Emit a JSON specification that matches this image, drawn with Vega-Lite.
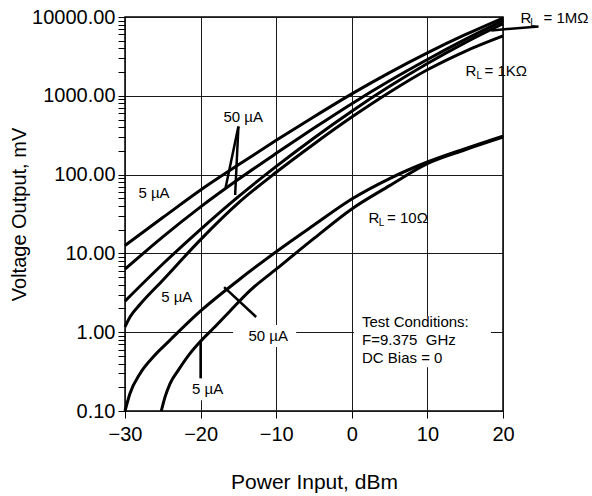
{
  "$schema": "https://vega.github.io/schema/vega-lite/v6.json",
  "width": 378,
  "height": 394,
  "autosize": {"type": "none"},
  "padding": {"left": 125, "top": 17, "right": 89, "bottom": 85},
  "background": "white",
  "config": {
    "view": {"stroke": "black", "strokeWidth": 1.5},
    "font": "Liberation Sans",
    "text": {"font": "Liberation Sans", "color": "black"}
  },
  "datasets": {
    "curves": [
      {"c": "A", "x": -30, "y": 12.6}, {"c": "A", "x": -25, "y": 28.5}, {"c": "A", "x": -20, "y": 63.8}, {"c": "A", "x": -15, "y": 133}, {"c": "A", "x": -10, "y": 272}, {"c": "A", "x": -5, "y": 543}, {"c": "A", "x": 0, "y": 1059}, {"c": "A", "x": 5, "y": 1972}, {"c": "A", "x": 10, "y": 3508}, {"c": "A", "x": 15, "y": 5957}, {"c": "A", "x": 20, "y": 9705},
      {"c": "B", "x": -30, "y": 6.31}, {"c": "B", "x": -25, "y": 16.2}, {"c": "B", "x": -20, "y": 38.9}, {"c": "B", "x": -15, "y": 87.1}, {"c": "B", "x": -10, "y": 186}, {"c": "B", "x": -5, "y": 389}, {"c": "B", "x": 0, "y": 794}, {"c": "B", "x": 5, "y": 1549}, {"c": "B", "x": 10, "y": 2884}, {"c": "B", "x": 15, "y": 5188}, {"c": "B", "x": 20, "y": 8974},
      {"c": "C", "x": -30, "y": 2.48}, {"c": "C", "x": -25, "y": 7.33}, {"c": "C", "x": -20, "y": 20.2}, {"c": "C", "x": -15, "y": 52.5}, {"c": "C", "x": -10, "y": 127}, {"c": "C", "x": -5, "y": 292}, {"c": "C", "x": 0, "y": 638}, {"c": "C", "x": 5, "y": 1318}, {"c": "C", "x": 10, "y": 2570}, {"c": "C", "x": 15, "y": 4732}, {"c": "C", "x": 20, "y": 8222},
      {"c": "D", "x": -30, "y": 1.17}, {"c": "D", "x": -29.3, "y": 1.58}, {"c": "D", "x": -28, "y": 2.26}, {"c": "D", "x": -25, "y": 4.57}, {"c": "D", "x": -20, "y": 14.96}, {"c": "D", "x": -15, "y": 43.7}, {"c": "D", "x": -10, "y": 107}, {"c": "D", "x": -5, "y": 245}, {"c": "D", "x": 0, "y": 537}, {"c": "D", "x": 5, "y": 1109}, {"c": "D", "x": 10, "y": 2138}, {"c": "D", "x": 15, "y": 3673}, {"c": "D", "x": 20, "y": 5754},
      {"c": "E", "x": -30, "y": 0.1}, {"c": "E", "x": -29.34, "y": 0.167}, {"c": "E", "x": -28, "y": 0.3}, {"c": "E", "x": -26.25, "y": 0.488}, {"c": "E", "x": -24.04, "y": 0.794}, {"c": "E", "x": -20, "y": 1.86}, {"c": "E", "x": -15, "y": 4.57}, {"c": "E", "x": -10, "y": 10.5}, {"c": "E", "x": -5, "y": 22.9}, {"c": "E", "x": 0, "y": 49}, {"c": "E", "x": 5, "y": 89.1}, {"c": "E", "x": 10, "y": 144.5}, {"c": "E", "x": 15, "y": 213.8}, {"c": "E", "x": 20, "y": 309},
      {"c": "F", "x": -25.2, "y": 0.1}, {"c": "F", "x": -24.7, "y": 0.151}, {"c": "F", "x": -24.04, "y": 0.223}, {"c": "F", "x": -22.94, "y": 0.33}, {"c": "F", "x": -21.39, "y": 0.538}, {"c": "F", "x": -20.07, "y": 0.755}, {"c": "F", "x": -18.3, "y": 1.12}, {"c": "F", "x": -16.1, "y": 1.86}, {"c": "F", "x": -13.44, "y": 3.39}, {"c": "F", "x": -10, "y": 6.31}, {"c": "F", "x": -5, "y": 15.5}, {"c": "F", "x": 0, "y": 36.7}, {"c": "F", "x": 5, "y": 72.4}, {"c": "F", "x": 10, "y": 138}, {"c": "F", "x": 15, "y": 206.5}, {"c": "F", "x": 20, "y": 298.5}
    ],
    "boxes": [
      {"x": 0.3, "x2": 18.4, "y": 0.36, "y2": 1.6},
      {"x": -15.7, "x2": -7.35, "y": 0.65, "y2": 1.23},
      {"x": -21.66, "x2": -16.62, "y": 0.137, "y2": 0.261}
    ],
    "leaders": [
      {"x": -15.0, "y": 407, "x2": -16.69, "y2": 68.8},
      {"x": -15.0, "y": 407, "x2": -15.43, "y2": 55.2},
      {"x": -16.89, "y": 3.74, "x2": -12.65, "y2": 1.56},
      {"x": -20, "y": 0.755, "x2": -20, "y2": 0.26},
      {"x": 18.44, "y": 6760, "x2": 24.7, "y2": 7590}
    ],
    "centerLabels": [
      {"x": -26.16, "y": 58.6, "label": "5 µA"},
      {"x": -14.37, "y": 541, "label": "50 µA"},
      {"x": -23.15, "y": 2.79, "label": "5 µA"},
      {"x": -11.06, "y": 0.891, "label": "50 µA"},
      {"x": -19.07, "y": 0.189, "label": "5 µA"}
    ],
    "leftLabels": [
      {"x": 1.35, "y": 1.355, "label": "Test Conditions:"},
      {"x": 1.35, "y": 0.794, "label": "F=9.375\u00a0 GHz"},
      {"x": 1.35, "y": 0.465, "label": "DC Bias = 0"},
      {"x": 22.32, "y": 9800, "label": "R"},
      {"x": 25.36, "y": 9800, "label": "= 1MΩ"},
      {"x": 15.03, "y": 2078, "label": "R"},
      {"x": 17.55, "y": 2078, "label": "= 1KΩ"},
      {"x": 2.22, "y": 28.2, "label": "R"},
      {"x": 4.66, "y": 28.2, "label": "= 10Ω"}
    ],
    "subs": [
      {"x": 23.6, "y": 9800, "label": "L"},
      {"x": 16.49, "y": 2078, "label": "L"},
      {"x": 3.58, "y": 28.2, "label": "L"}
    ]
  },
  "layer": [
    {
      "data": {"name": "boxes"},
      "mark": {"type": "rect", "color": "white"},
      "encoding": {
        "x": {
          "field": "x", "type": "quantitative",
          "scale": {"domain": [-30, 20], "nice": false, "zero": false},
          "axis": {
            "values": [-30, -25, -20, -15, -10, -5, 0, 5, 10, 15, 20],
            "labelExpr": "datum.value % 10 === 0 ? datum.label : ''",
            "gridOpacity": {"condition": {"test": "datum.value % 10 === 0", "value": 1}, "value": 0},
            "grid": true, "gridColor": "#1a1a1a", "gridWidth": 1,
            "domain": false, "tickSize": 7, "tickColor": "black", "tickWidth": 1,
            "labelFontSize": 20, "labelColor": "black", "labelPadding": 6, "labelOverlap": false, "labelFlush": false,
            "title": "Power Input, dBm", "titleFontSize": 21, "titleFontWeight": "normal", "titleColor": "black", "titlePadding": 27
          }
        },
        "x2": {"field": "x2"},
        "y": {
          "field": "y", "type": "quantitative",
          "scale": {"type": "log", "domain": [0.1, 10000], "nice": false},
          "axis": {
            "values": [0.1,0.2,0.3,0.4,0.5,0.6,0.7,0.8,0.9,1,2,3,4,5,6,7,8,9,10,20,30,40,50,60,70,80,90,100,200,300,400,500,600,700,800,900,1000,2000,3000,4000,5000,6000,7000,8000,9000,10000],
            "labelExpr": "abs(log(datum.value)/LN10 - round(log(datum.value)/LN10)) < 0.001 ? format(datum.value, '.2f') : ''",
            "gridOpacity": {"condition": {"test": "abs(log(datum.value)/LN10 - round(log(datum.value)/LN10)) < 0.001", "value": 1}, "value": 0},
            "grid": true, "gridColor": "#1a1a1a", "gridWidth": 1,
            "domain": false, "tickSize": 7, "tickColor": "black", "tickWidth": 1,
            "labelFontSize": 20, "labelColor": "black", "labelPadding": 3, "labelOverlap": false, "labelFlush": false,
            "title": "Voltage Output, mV", "titleFontSize": 20, "titleFontWeight": "normal", "titleColor": "black", "titlePadding": 2
          }
        },
        "y2": {"field": "y2"}
      }
    },
    {
      "data": {"name": "curves"},
      "mark": {"type": "line", "color": "black", "strokeWidth": 3, "interpolate": "monotone"},
      "encoding": {
        "x": {"field": "x", "type": "quantitative"},
        "y": {"field": "y", "type": "quantitative"},
        "detail": {"field": "c"}
      }
    },
    {
      "data": {"name": "leaders"},
      "mark": {"type": "rule", "color": "black", "strokeWidth": 2.5},
      "encoding": {
        "x": {"field": "x", "type": "quantitative"},
        "y": {"field": "y", "type": "quantitative"},
        "x2": {"field": "x2"},
        "y2": {"field": "y2"}
      }
    },
    {
      "data": {"name": "centerLabels"},
      "mark": {"type": "text", "fontSize": 15, "align": "center", "baseline": "middle"},
      "encoding": {
        "x": {"field": "x", "type": "quantitative"},
        "y": {"field": "y", "type": "quantitative"},
        "text": {"field": "label"}
      }
    },
    {
      "data": {"name": "leftLabels"},
      "mark": {"type": "text", "fontSize": 15, "align": "left", "baseline": "middle"},
      "encoding": {
        "x": {"field": "x", "type": "quantitative"},
        "y": {"field": "y", "type": "quantitative"},
        "text": {"field": "label"}
      }
    },
    {
      "data": {"name": "subs"},
      "mark": {"type": "text", "fontSize": 10, "align": "left", "baseline": "middle", "dy": 5},
      "encoding": {
        "x": {"field": "x", "type": "quantitative"},
        "y": {"field": "y", "type": "quantitative"},
        "text": {"field": "label"}
      }
    }
  ]
}
